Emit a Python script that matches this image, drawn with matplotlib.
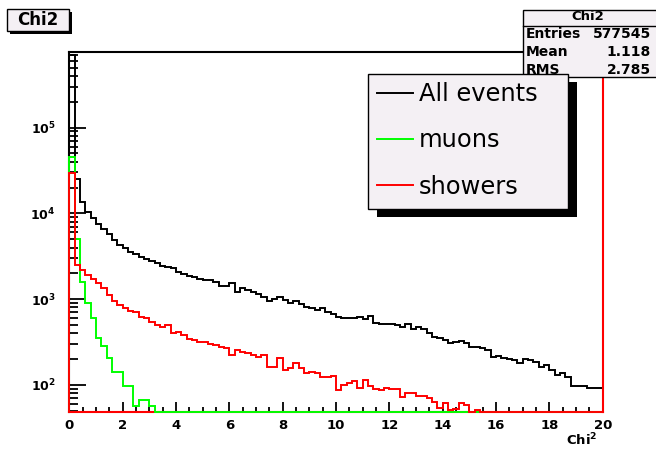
import numpy as np
import matplotlib.pyplot as plt
from matplotlib.patches import Rectangle
from matplotlib.lines import Line2D
from matplotlib.ticker import FixedLocator, LogLocator, MultipleLocator, NullFormatter, FuncFormatter

plt.rcParams['font.family'] = 'DejaVu Sans'
plt.rcParams['mathtext.fontset'] = 'dejavusans'

# 100 bins of width 0.2 between 0 and 20
edges = np.linspace(0, 20, 101)

all_events = [
    700000, 25200, 13600, 10400, 8830, 7520, 6580, 5750, 4900, 4290,
    3960, 3580, 3370, 3130, 2940, 2790, 2620, 2440, 2360, 2290,
    2090, 1970, 1860, 1800, 1720, 1675, 1660, 1600, 1425, 1410,
    1530, 1220, 1340, 1280, 1220, 1150, 1070, 960, 997, 1050,
    979, 896, 953, 890, 818, 783, 748, 780, 715, 672,
    625, 609, 605, 610, 625, 588, 637, 524, 520, 514,
    512, 500, 478, 514, 446, 470, 449, 404, 366, 353,
    335, 309, 320, 328, 309, 280, 278, 270, 256, 210,
    218, 205, 201, 196, 179, 199, 196, 187, 161, 171,
    150, 131, 139, 123, 97, 97, 97, 93, 93, 93]

muons = [45400, 5000, 1600, 910, 603, 353, 285, 205, 143, 141,
         97, 96, 57, 67, 67, 57] + [0] * 84

showers = [
    29600, 2500, 2190, 1910, 1720, 1545, 1350, 1120, 953, 856,
    790, 734, 709, 625, 599, 547, 500, 478, 500, 400,
    418, 383, 341, 335, 320, 318, 298, 293, 275, 268,
    224, 256, 244, 234, 224, 214, 224, 163, 160, 205,
    150, 157, 179, 157, 137, 143, 139, 125, 124, 126,
    88, 100, 105, 112, 92, 114, 96, 89, 88, 92,
    89, 89, 73, 81, 80, 74, 74, 70, 64, 54,
    61, 51, 52, 62, 58, 0, 51, 0, 0, 0] + [0] * 20

entries = 577545
mean = 1.118
rms = 2.785

ylo, yhi = 48.4, 7.6e5

W, H = 656, 449
fig = plt.figure(figsize=(W / 100, H / 100), dpi=100)
fig.patch.set_facecolor('white')
ax = fig.add_axes([69.3 / W, 1 - 412 / H, (602.7 - 69.3) / W, (412 - 52) / H])
ax.set_yscale('log')

# ROOT draws empty bins on the frame bottom
def floor(v):
    return np.clip(np.array(v, dtype=float), ylo, None)

h_all = ax.stairs(floor(all_events), edges, baseline=ylo, color='black', lw=1.4,
                  zorder=3, clip_on=False)
h_mu = ax.stairs(floor(muons), edges, baseline=ylo, color='#00ff00', lw=1.4,
                 zorder=3, clip_on=False)
h_sh = ax.stairs(floor(showers), edges, baseline=ylo, color='#ff0000', lw=1.4,
                 zorder=3, clip_on=False)

ax.set_xlim(0, 20)
ax.set_ylim(ylo, yhi)

ax.xaxis.set_major_locator(MultipleLocator(2))
ax.xaxis.set_minor_locator(MultipleLocator(0.5))
ax.yaxis.set_major_locator(FixedLocator([1e2, 1e3, 1e4, 1e5]))
ax.yaxis.set_minor_locator(LogLocator(subs=np.arange(2, 10)))
ax.yaxis.set_minor_formatter(NullFormatter())
ax.yaxis.set_major_formatter(FuncFormatter(
    lambda v, p: r'$\mathbf{10^{%d}}$' % round(np.log10(v))))
ax.xaxis.set_major_formatter(FuncFormatter(lambda v, p: '%d' % v))

ax.tick_params(axis='both', which='both', direction='in', top=False, right=False,
               width=1.3, colors='black')
ax.tick_params(axis='y', which='major', length=12, pad=10, labelsize=9)
ax.tick_params(axis='y', which='minor', length=6.5)
ax.tick_params(axis='x', which='major', length=7, pad=5, labelsize=9.5)
ax.tick_params(axis='x', which='minor', length=3.6)
for lab in ax.get_xticklabels():
    lab.set_fontweight('bold')

for s in ax.spines.values():
    s.set_linewidth(1.5)
ax.spines['right'].set_color('#ff0000')
ax.spines['right'].set_zorder(5)
ax.spines['bottom'].set_color('#ff0000')

ax.set_xlabel(r'$\mathbf{Chi^{2}}$', fontsize=9.5, ha='right', va='center')
ax.xaxis.set_label_coords(0.99, -0.078)


def box(x0, y0, x1, y1, **kw):
    r = Rectangle((x0 / W, 1 - y1 / H), (x1 - x0) / W, (y1 - y0) / H,
                  transform=fig.transFigure, **kw)
    fig.add_artist(r)


panel = '#f4f0f4'

# title box
box(10, 12, 72, 34, facecolor='black', edgecolor='none', zorder=3)
box(7, 9, 69, 31, facecolor=panel, edgecolor='black', lw=1, zorder=4)
fig.text(38 / W, 1 - 20 / H, 'Chi2', ha='center', va='center',
         fontsize=12, fontweight='bold', zorder=5)

# stats box
box(522.7, 10, 662, 77, facecolor=panel, edgecolor='black', lw=1, zorder=3)
fig.add_artist(Line2D([522.7 / W, 1], [1 - 26 / H, 1 - 26 / H],
                      transform=fig.transFigure, color='black', lw=1, zorder=4))
fig.text(588 / W, 1 - 17 / H, 'Chi2', ha='center', va='center',
         fontsize=9.5, fontweight='bold', zorder=4)
rows = [('Entries', '%d' % entries), ('Mean', '%.3f' % mean), ('RMS', '%.3f' % rms)]
for (name, val), yy in zip(rows, [33.5, 52, 69.5]):
    fig.text(526 / W, 1 - yy / H, name, ha='left', va='center',
             fontsize=10, fontweight='bold', zorder=4)
    fig.text(651 / W, 1 - yy / H, val, ha='right', va='center',
             fontsize=10, fontweight='bold', zorder=4)

# legend box
box(377, 82, 577, 217, facecolor='black', edgecolor='none', zorder=6)
box(368.3, 74, 568.3, 209.3, facecolor=panel, edgecolor='black', lw=1, zorder=7)
leg = fig.legend([h_all, h_mu, h_sh], ['All events', 'muons', 'showers'],
                 loc='upper left', bbox_to_anchor=(376.7 / W, 1 - 82 / H),
                 frameon=False, fontsize=17.4, handlelength=1.5,
                 handletextpad=0.25, labelspacing=0.93, borderpad=0,
                 borderaxespad=0)
leg.set_zorder(8)

fig.savefig('out.png', dpi=100)
